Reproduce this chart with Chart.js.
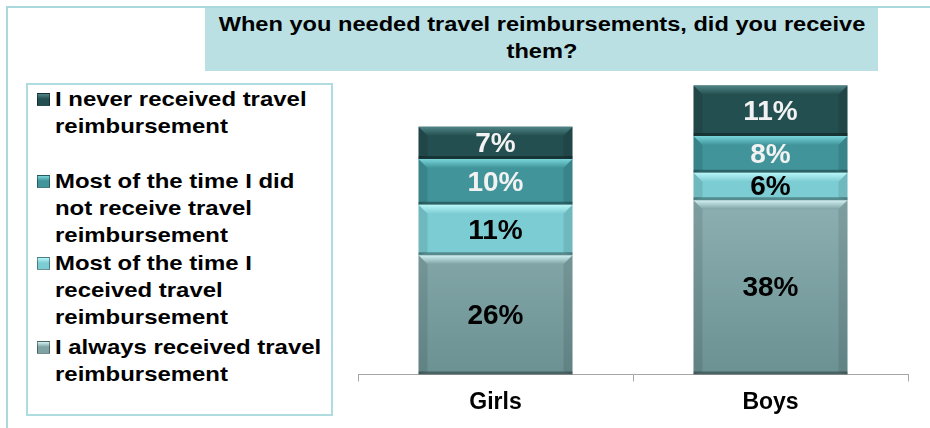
<!DOCTYPE html>
<html>
<head>
<meta charset="utf-8">
<script src="https://cdn.jsdelivr.net/npm/chart.js@4.4.1/dist/chart.umd.min.js"></script>
<style>
  body { margin: 0; width: 930px; height: 428px; position: relative; overflow: hidden; background: #fff;
         font-family: "Liberation Sans", Arial, sans-serif; }
  #frame { position: absolute; left: 6px; top: 6px; right: -4px; bottom: -4px;
           border-left: 2px solid #a9d9dd; border-top: 2px solid #a9d9dd; }
  #title { position: absolute; left: 205px; top: 8px; width: 673px; height: 63px; background: #bae0e4;
           font-weight: bold; font-size: 20px; line-height: 27px; text-align: center;
           padding-top: 3px; box-sizing: border-box; color: #000; }
  #title span { display: inline-block; transform: scaleX(1.18); }
  #legend { position: absolute; left: 26px; top: 83px; width: 307px; height: 333px;
            border: 2px solid #aedcdf; box-sizing: border-box; }
  .item { position: absolute; left: 27px; font-weight: bold; font-size: 21px; line-height: 27px; color: #000;
          white-space: nowrap; }
  .item .txt { display: inline-block; transform: scaleX(1.14); transform-origin: left top; }
  .mark { position: absolute; left: -18px; top: 8px; width: 13px; height: 13px; box-sizing: border-box;
          border: 1px solid rgba(0,0,0,0.4); }
  #wrap { position: absolute; left: 340px; top: 0; width: 590px; height: 428px; }
</style>
</head>
<body>
<div id="frame"></div>
<div id="title"></div>
<div id="legend"></div>
<div id="wrap"><canvas id="chart" width="590" height="428"></canvas></div>
<script>
const titleLines = ['When you needed travel reimbursements, did you receive', 'them?'];
const categories = ['Girls', 'Boys'];

// stacked bottom to top
const seriesLines = [
  ['I always received travel', 'reimbursement'],
  ['Most of the time I', 'received travel', 'reimbursement'],
  ['Most of the time I did', 'not receive travel', 'reimbursement'],
  ['I never received travel', 'reimbursement']
];
const alwaysReceived = [26, 38];
const mostlyReceived = [11, 6];
const mostlyNotReceived = [10, 8];
const neverReceived = [7, 11];

const baseColors = ['#7fa3a5', '#7ccdd3', '#40949a', '#244f50'];
const topColors = ['#d2f2f4', '#b9f6f9', '#79d6db', '#4f8485'];
const labelColors = ['#000', '#000', '#f2f2f2', '#f2f2f2'];
const legendTops = [248, 164, 82, 0];

document.getElementById('title').innerHTML = titleLines.map(s => `<span>${s}</span>`).join('<br>');

const legend = document.getElementById('legend');
for (let i = seriesLines.length - 1; i >= 0; i--) {
  legend.innerHTML += `
    <div class="item" style="top:${legendTops[i]}px">
      <span class="mark" style="background:linear-gradient(${topColors[i]}, ${baseColors[i]} 45%)"></span>
      <span class="txt">${seriesLines[i].join('<br>')}</span>
    </div>`;
}

function poly(ctx, pts) {
  ctx.beginPath();
  ctx.moveTo(pts[0][0], pts[0][1]);
  for (let k = 1; k < pts.length; k++) ctx.lineTo(pts[k][0], pts[k][1]);
  ctx.closePath();
  ctx.fill();
}

// bevel look + value labels on each segment
const bevelLabels = {
  id: 'bevelLabels',
  afterDatasetsDraw(chart) {
    const ctx = chart.ctx;
    chart.data.datasets.forEach((ds, i) => {
      chart.getDatasetMeta(i).data.forEach((bar, j) => {
        const p = bar.getProps(['x', 'y', 'base', 'width'], true);
        const l = p.x - p.width / 2, r = p.x + p.width / 2;
        const t = Math.min(p.y, p.base), b = Math.max(p.y, p.base);
        const d = Math.min(9, (b - t) / 3);
        ctx.save();
        const g = ctx.createLinearGradient(0, t, 0, t + d);
        g.addColorStop(0, topColors[i]);
        g.addColorStop(1, baseColors[i]);
        ctx.fillStyle = g;
        poly(ctx, [[l, t], [r, t], [r - d, t + d], [l + d, t + d]]);
        ctx.fillStyle = 'rgba(0,0,0,0.10)';
        poly(ctx, [[l, t], [l + d, t + d], [l + d, b - 3], [l, b]]);
        poly(ctx, [[r, t], [r - d, t + d], [r - d, b - 3], [r, b]]);
        ctx.fillStyle = 'rgba(0,0,0,0.32)';
        poly(ctx, [[l, b - 3], [r, b - 3], [r, b], [l, b]]);
        ctx.fillStyle = labelColors[i];
        ctx.font = 'bold 28px "Liberation Sans", Arial, sans-serif';
        ctx.textAlign = 'center';
        ctx.textBaseline = 'middle';
        ctx.fillText(ds.data[j] + '%', p.x, (t + b) / 2 + 1);
        ctx.restore();
      });
    });
  }
};

function bottomFill(context) {
  const area = context.chart.chartArea;
  if (!area) return baseColors[0];
  const g = context.chart.ctx.createLinearGradient(0, area.top, 0, area.bottom);
  g.addColorStop(0, '#a3c6c8');
  g.addColorStop(1, '#6c9193');
  return g;
}

const allSeries = [alwaysReceived, mostlyReceived, mostlyNotReceived, neverReceived];

new Chart(document.getElementById('chart'), {
  type: 'bar',
  data: {
    labels: categories,
    datasets: allSeries.map((vals, i) => ({
      label: seriesLines[i].join(' '),
      data: vals,
      backgroundColor: i === 0 ? bottomFill : baseColors[i],
      borderWidth: 0,
      barPercentage: 0.56,
      categoryPercentage: 1
    }))
  },
  plugins: [bevelLabels],
  options: {
    responsive: false,
    animation: false,
    devicePixelRatio: 1,
    layout: { padding: { left: 18, right: 22, top: 81, bottom: 5 } },
    plugins: { legend: { display: false }, tooltip: { enabled: false } },
    scales: {
      x: {
        stacked: true,
        grid: { display: true, drawOnChartArea: false, offset: true, tickLength: 7, color: '#a6a6a6' },
        border: { display: true, color: '#a6a6a6', width: 1 },
        ticks: { color: '#000', padding: 7, font: { family: '"Liberation Sans", Arial, sans-serif', size: 23, weight: 'bold' } }
      },
      y: { stacked: true, display: false, min: 0, max: 64 }
    }
  }
});
</script>
</body>
</html>
